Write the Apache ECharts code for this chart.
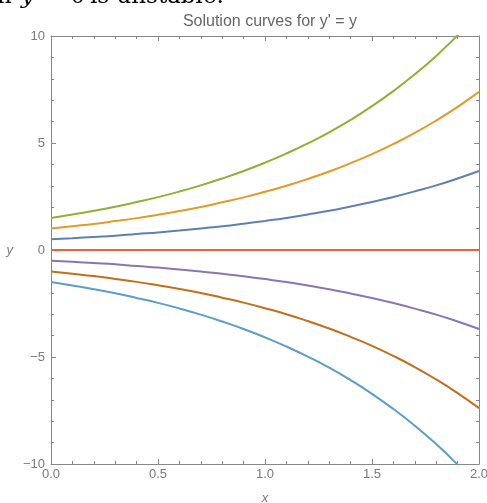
<!DOCTYPE html>
<html>
<head>
<meta charset="utf-8">
<script src="https://cdn.jsdelivr.net/npm/echarts@6/dist/echarts.min.js"></script>
<style>
  html, body { margin: 0; padding: 0; background: #fff; }
  #chart { width: 487px; height: 503px; }
</style>
</head>
<body>
<div id="chart"></div>
<script>
// x samples and curve values
var xs = [0, 0.1, 0.2, 0.3, 0.4, 0.5, 0.6, 0.7, 0.8, 0.9, 1.0, 1.1, 1.2, 1.3, 1.4, 1.5, 1.6, 1.7, 1.8, 1.9, 2.0]
var green = [1.5, 1.66, 1.83, 2.02, 2.24, 2.47, 2.73, 3.02, 3.34, 3.69, 4.08, 4.51, 4.98, 5.50, 6.08, 6.72, 7.43, 8.21, 9.07, 10.03, 11.08]
var orange = [1, 1.11, 1.22, 1.35, 1.49, 1.65, 1.82, 2.01, 2.23, 2.46, 2.72, 3.0, 3.32, 3.67, 4.06, 4.48, 4.95, 5.47, 6.05, 6.69, 7.39]
var blue = [0.5, 0.55, 0.61, 0.67, 0.75, 0.82, 0.91, 1.01, 1.11, 1.23, 1.36, 1.5, 1.66, 1.83, 2.03, 2.24, 2.48, 2.74, 3.02, 3.34, 3.69]
var red = [0, 0, 0, 0, 0, 0, 0, 0, 0, 0, 0, 0, 0, 0, 0, 0, 0, 0, 0, 0, 0]
var purple = [-0.5, -0.55, -0.61, -0.67, -0.75, -0.82, -0.91, -1.01, -1.11, -1.23, -1.36, -1.5, -1.66, -1.83, -2.03, -2.24, -2.48, -2.74, -3.02, -3.34, -3.69]
var brown = [-1, -1.11, -1.22, -1.35, -1.49, -1.65, -1.82, -2.01, -2.23, -2.46, -2.72, -3.0, -3.32, -3.67, -4.06, -4.48, -4.95, -5.47, -6.05, -6.69, -7.39]
var lightBlue = [-1.5, -1.66, -1.83, -2.02, -2.24, -2.47, -2.73, -3.02, -3.34, -3.69, -4.08, -4.51, -4.98, -5.50, -6.08, -6.72, -7.43, -8.21, -9.07, -10.03, -11.08]

var curves = [
  {vals: green, color: '#8FB131'},
  {vals: orange, color: '#E19C24'},
  {vals: blue, color: '#5E81B5'},
  {vals: red, color: '#EB6235'},
  {vals: purple, color: '#8778B3'},
  {vals: brown, color: '#C56E1A'},
  {vals: lightBlue, color: '#5D9EC7'}
]

var gray = '#888888'
var labelColor = '#7b7b7b'
var font = 'Liberation Sans'

function minus(s){ return String(s).replace('-', '\u2212') }

function frameAxis(extra){
  return Object.assign({
    type: 'value',
    axisLine: {show: true, onZero: false, lineStyle: {color: gray, width: 1}},
    axisTick: {show: true, inside: true, length: 5, lineStyle: {color: gray}},
    minorTick: {show: true, splitNumber: 5, length: 3, lineStyle: {color: gray}},
    splitLine: {show: false},
    axisLabel: {show: false}
  }, extra)
}

// cut-off line of text above the figure
var serif = '23px "DejaVu Serif"'
var topText = [
  {x: -3, text: 'n', font: serif},
  {x: 21, text: 'y', font: 'italic ' + serif},
  {x: 44, text: '= 0', font: serif},
  {x: 90, text: 'is unstable.', font: serif}
]

var chart = echarts.init(document.getElementById('chart'))
var option = {
  animation: false,
  backgroundColor: '#fff',
  title: {
    text: "Solution curves for y' = y",
    left: 265, textAlign: 'center', top: 9,
    textStyle: {fontFamily: font, fontSize: 16, fontWeight: 'normal', color: '#666'}
  },
  graphic: topText.map(function(t){
    return {type: 'text', left: t.x, top: -14,
      style: {text: t.text, font: t.font, fill: '#000'}}
  }),
  grid: {left: 51, right: 8, top: 36, bottom: 39, outerBoundsMode: 'none'},
  xAxis: [
    frameAxis({
      min: 0, max: 2, interval: 0.5, position: 'bottom',
      name: 'x', nameLocation: 'middle', nameGap: 28,
      nameTextStyle: {fontFamily: font, fontSize: 13, fontStyle: 'italic', color: labelColor},
      axisLabel: {show: true, margin: 4, fontFamily: font, fontSize: 13, color: labelColor,
        formatter: function(v){ return v.toFixed(1) }}
    }),
    frameAxis({min: 0, max: 2, interval: 0.5, position: 'top'})
  ],
  yAxis: [
    frameAxis({
      min: -10, max: 10, interval: 5, position: 'left',
      name: 'y', nameLocation: 'middle', nameGap: 38, nameRotate: 0,
      nameTextStyle: {fontFamily: font, fontSize: 13, fontStyle: 'italic', color: labelColor},
      axisLabel: {show: true, margin: 6, fontFamily: font, fontSize: 13, color: labelColor,
        formatter: function(v){ return minus(v) }}
    }),
    frameAxis({min: -10, max: 10, interval: 5, position: 'right'})
  ],
  series: curves.map(function(c){
    return {
      type: 'line',
      data: xs.map(function(x, i){ return [x, c.vals[i]] }),
      showSymbol: false,
      smooth: true,
      clip: true,
      lineStyle: {color: c.color, width: 2},
      itemStyle: {color: c.color}
    }
  })
}
chart.setOption(option)
</script>
</body>
</html>
